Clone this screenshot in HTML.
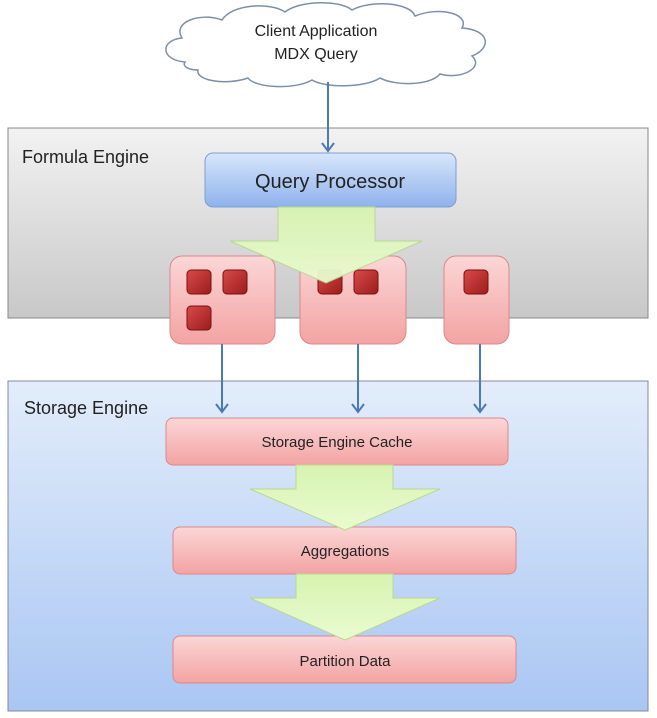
<!DOCTYPE html>
<html><head><style>
body{margin:0;background:#fff;}
svg{display:block;font-family:"Liberation Sans",sans-serif;}
</style></head><body>
<svg width="657" height="718" viewBox="0 0 657 718">
<defs>
<linearGradient id="gray" x1="0" y1="0" x2="0" y2="1"><stop offset="0" stop-color="#f2f2f2"/><stop offset="1" stop-color="#c8c8c8"/></linearGradient>
<linearGradient id="blue" x1="0" y1="0" x2="0" y2="1"><stop offset="0" stop-color="#e3edfb"/><stop offset="1" stop-color="#a9c6f3"/></linearGradient>
<linearGradient id="qp" x1="0" y1="0" x2="0" y2="1"><stop offset="0" stop-color="#d8e6fb"/><stop offset="1" stop-color="#8fb2ec"/></linearGradient>
<linearGradient id="pink" x1="0" y1="0" x2="0" y2="1"><stop offset="0" stop-color="#fbd6d6"/><stop offset="1" stop-color="#f3a3a3"/></linearGradient>
<linearGradient id="green" x1="0" y1="0" x2="0" y2="1"><stop offset="0" stop-color="#d7f3b0"/><stop offset="1" stop-color="#eafbd0"/></linearGradient>
<linearGradient id="red" x1="0" y1="0" x2="1" y2="1"><stop offset="0" stop-color="#d84a4a"/><stop offset="1" stop-color="#9c1c1c"/></linearGradient>
<marker id="ah" markerWidth="12" markerHeight="14" refX="10" refY="7" orient="auto" markerUnits="userSpaceOnUse"><path d="M2,1 L10,7 L2,13" fill="none" stroke="#4a79b5" stroke-width="2"/></marker>
</defs>
<path d="M185,62 C160,60 160,40 182,38 C172,22 200,12 222,20 C232,4 270,2 285,12 C300,0 340,0 352,10 C370,0 410,2 415,16 C440,6 470,14 462,28 C490,30 492,48 472,56 C485,68 460,80 440,74 C430,86 395,86 380,78 C365,88 325,88 312,80 C295,90 255,88 248,78 C225,86 195,80 198,70 C188,70 182,66 185,62 Z" fill="#fff" stroke="#7d8fa6" stroke-width="1.5"/>
<text x="316" y="36" font-size="16" text-anchor="middle" fill="#222">Client Application</text>
<text x="316" y="59" font-size="16" text-anchor="middle" fill="#222">MDX Query</text>
<rect x="8" y="128" width="640" height="190" fill="url(#gray)" stroke="#888" stroke-width="1"/>
<text x="22" y="163" font-size="18" fill="#222">Formula Engine</text>
<line x1="328" y1="82" x2="328" y2="151" stroke="#4a79b5" stroke-width="2" marker-end="url(#ah)"/>
<rect x="205" y="153" width="251" height="54" rx="8" fill="url(#qp)" stroke="#7b9fd4"/>
<text x="330" y="188" font-size="20" text-anchor="middle" fill="#222">Query Processor</text>
<rect x="170" y="256" width="105" height="88" rx="12" fill="url(#pink)" stroke="#d88"/>
<rect x="300" y="256" width="106" height="88" rx="12" fill="url(#pink)" stroke="#d88"/>
<rect x="444" y="256" width="65" height="88" rx="12" fill="url(#pink)" stroke="#d88"/>
<g fill="url(#red)" stroke="#7a1010" stroke-width="1">
<rect x="187" y="270" width="24" height="24" rx="4"/>
<rect x="223" y="270" width="24" height="24" rx="4"/>
<rect x="187" y="306" width="24" height="24" rx="4"/>
<rect x="318" y="270" width="24" height="24" rx="4"/>
<rect x="354" y="270" width="24" height="24" rx="4"/>
<rect x="464" y="270" width="24" height="24" rx="4"/>
</g>
<path d="M278,207 L375,207 L375,241 L422,241 L326,283 L230,241 L278,241 Z" fill="url(#green)" stroke="#b8d890" opacity="0.95"/>
<rect x="8" y="381" width="640" height="330" fill="url(#blue)" stroke="#889" stroke-width="1"/>
<text x="24" y="414" font-size="18" fill="#222">Storage Engine</text>
<line x1="222" y1="344" x2="222" y2="412" stroke="#4a79b5" stroke-width="2" marker-end="url(#ah)"/>
<line x1="358" y1="344" x2="358" y2="412" stroke="#4a79b5" stroke-width="2" marker-end="url(#ah)"/>
<line x1="480" y1="344" x2="480" y2="412" stroke="#4a79b5" stroke-width="2" marker-end="url(#ah)"/>
<rect x="166" y="418" width="342" height="47" rx="7" fill="url(#pink)" stroke="#d88"/>
<text x="337" y="447" font-size="15" text-anchor="middle" fill="#222">Storage Engine Cache</text>
<rect x="173" y="527" width="343" height="47" rx="7" fill="url(#pink)" stroke="#d88"/>
<text x="345" y="556" font-size="15" text-anchor="middle" fill="#222">Aggregations</text>
<rect x="173" y="636" width="343" height="47" rx="7" fill="url(#pink)" stroke="#d88"/>
<text x="345" y="666" font-size="15" text-anchor="middle" fill="#222">Partition Data</text>
<path d="M296,465 L393,465 L393,489 L440,489 L345,530 L250,489 L296,489 Z" fill="url(#green)" stroke="#b8d890"/>
<path d="M296,574 L393,574 L393,598 L440,598 L345,640 L250,598 L296,598 Z" fill="url(#green)" stroke="#b8d890"/>
</svg>
</body></html>
